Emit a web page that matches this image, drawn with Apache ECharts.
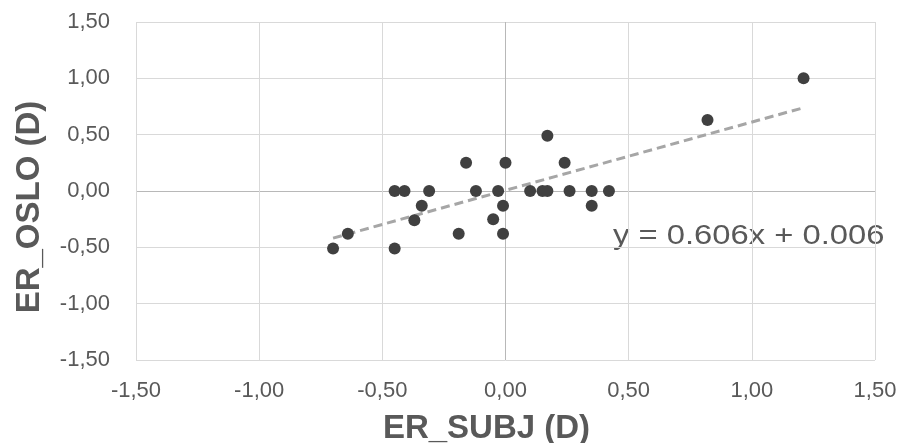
<!DOCTYPE html>
<html>
<head>
<meta charset="utf-8">
<script src="https://cdn.jsdelivr.net/npm/echarts@6/dist/echarts.min.js"></script>
<style>
html,body{margin:0;padding:0;background:#fff;}
#c{width:902px;height:443px;}
</style>
</head>
<body>
<div id="c"></div>
<script>
// Data
var erSubj = [-0.70,-0.64,-0.45,-0.45,-0.41,-0.31,-0.34,-0.37,-0.16,-0.19,-0.12,-0.03,-0.05,-0.01,-0.01,0.00,0.10,0.15,0.17,0.17,0.24,0.26,0.35,0.42,0.35,0.82,1.21];
var erOslo = [-0.51,-0.38,-0.51,0.00,0.00,0.00,-0.13,-0.26,0.25,-0.38,0.00,0.00,-0.25,-0.13,-0.38,0.25,0.00,0.00,0.00,0.49,0.25,0.00,0.00,0.00,-0.13,0.63,1.00];
var trendSlope = 0.606;
var trendIntercept = 0.006;
var trendLabel = 'y = 0.606x + 0.006';
var xTitle = 'ER_SUBJ (D)';
var yTitle = 'ER_OSLO (D)';
var axisMin = -1.5, axisMax = 1.5, axisStep = 0.5;

var points = erSubj.map(function(x,i){return [x, erOslo[i]];});
var xMinData = Math.min.apply(null, erSubj), xMaxData = Math.max.apply(null, erSubj);
var trend = [[xMinData, trendSlope*xMinData+trendIntercept],[xMaxData, trendSlope*xMaxData+trendIntercept]];

function fmt(v){ return v.toFixed(2).replace('.', ','); }
var gridCol = '#d9d9d9', zeroCol = '#b8b8b8';
var lineCols = [gridCol,gridCol,gridCol,zeroCol,gridCol,gridCol,gridCol];
var font = '"Liberation Sans", Arial, sans-serif';

var chart = echarts.init(document.getElementById('c'), null, {renderer:'canvas'});
chart.setOption({
  animation:false,
  backgroundColor:'#fff',
  grid:{left:136, right:27, top:22, bottom:83, containLabel:false, outerBoundsMode:'none'},
  xAxis:{
    type:'value', min:axisMin, max:axisMax, interval:axisStep,
    axisLine:{show:false}, axisTick:{show:false},
    splitLine:{show:true, showMinLine:true, showMaxLine:true, lineStyle:{color:lineCols, width:1}},
    axisLabel:{formatter:fmt, color:'#595959', fontSize:22, fontFamily:font, margin:20},
    name:xTitle, nameLocation:'middle', nameGap:52,
    nameTextStyle:{color:'#595959', fontSize:33, fontWeight:'bold', fontFamily:font, padding:[0,38,0,0]}
  },
  yAxis:{
    type:'value', min:axisMin, max:axisMax, interval:axisStep,
    axisLine:{show:false}, axisTick:{show:false},
    splitLine:{show:true, showMinLine:true, showMaxLine:true, lineStyle:{color:lineCols, width:1}},
    axisLabel:{formatter:fmt, color:'#595959', fontSize:22, fontFamily:font, margin:26},
    name:yTitle, nameLocation:'middle', nameGap:90, nameRotate:90,
    nameTextStyle:{color:'#595959', fontSize:33, fontWeight:'bold', fontFamily:font, padding:[0,32,0,0]}
  },
  series:[
    {type:'line', data:trend, showSymbol:false, symbol:'none', silent:true,
     lineStyle:{color:'#a6a6a6', width:3, type:[9,5]}, z:2},
    {type:'scatter', data:points, symbol:'circle', symbolSize:12,
     itemStyle:{color:'#404040', opacity:1}, z:3}
  ],
  graphic:[
    {type:'text', left:613, top:222, scaleX:1.17,
     style:{text:trendLabel, fill:'#595959', fontSize:28, fontFamily:font}}
  ]
});
</script>
</body>
</html>
